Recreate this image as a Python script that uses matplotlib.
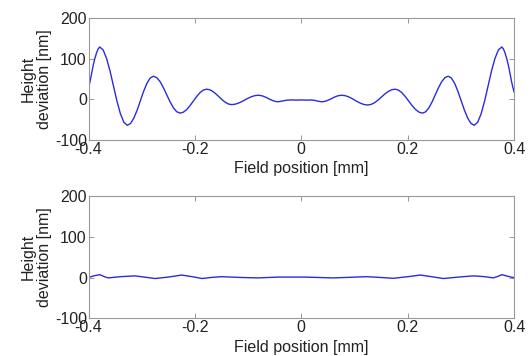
import matplotlib
matplotlib.use("Agg")
import matplotlib.pyplot as plt

plt.rcParams['font.family'] = ['Liberation Sans', 'DejaVu Sans']

# Top panel: field position [mm] vs height deviation [nm]
top_x = [-0.400, -0.397, -0.394, -0.391, -0.388, -0.385, -0.382, -0.379,
         -0.3725, -0.366, -0.3595, -0.353, -0.3465, -0.340, -0.3335, -0.327,
         -0.3209, -0.3148, -0.3086, -0.3025, -0.2964, -0.2903, -0.2841, -0.278,
         -0.2718, -0.2655, -0.2593, -0.253, -0.2468, -0.2405, -0.2343, -0.228,
         -0.2218, -0.2155, -0.2093, -0.203, -0.1968, -0.1905, -0.1843, -0.178,
         -0.1721, -0.1663, -0.1604, -0.1545, -0.1486, -0.1428, -0.1369, -0.131,
         -0.1248, -0.1185, -0.1123, -0.106, -0.0998, -0.0935, -0.0873, -0.081,
         -0.0763, -0.0715, -0.0668, -0.062, -0.0573, -0.0525, -0.0478, -0.043,
         -0.035, -0.027, -0.018, -0.010, 0.000, 0.010, 0.018, 0.025, 0.031, 0.038,
         0.0428, 0.0475, 0.0523, 0.057, 0.0618, 0.0665, 0.0713, 0.076,
         0.0821, 0.0883, 0.0944, 0.1005, 0.1066, 0.1128, 0.1189, 0.125,
         0.1314, 0.1378, 0.1441, 0.1505, 0.1569, 0.1633, 0.1696, 0.176,
         0.1825, 0.189, 0.1955, 0.202, 0.2085, 0.215, 0.2215, 0.228,
         0.234, 0.240, 0.246, 0.252, 0.258, 0.264, 0.270, 0.276,
         0.2821, 0.2883, 0.2944, 0.3005, 0.3066, 0.3128, 0.3189, 0.325,
         0.3315, 0.338, 0.3445, 0.351, 0.3575, 0.364, 0.3705, 0.377,
         0.380, 0.383, 0.386, 0.389, 0.392, 0.395, 0.398, 0.400]
top_y = [25, 45, 66, 85, 101, 114, 124, 129,
         121.7, 100.7, 69.5, 32.5, -4.5, -35.7, -56.7, -64,
         -59.4, -46.3, -26.7, -3.5, 19.7, 39.3, 52.4, 57,
         53.5, 43.7, 28.9, 11.5, -5.9, -20.7, -30.5, -34,
         -31.8, -25.4, -15.8, -4.5, 6.8, 16.4, 22.8, 25,
         23.6, 19.4, 13.3, 6, -1.3, -7.4, -11.6, -13,
         -12.1, -9.6, -5.9, -1.5, 2.9, 6.6, 9.1, 10,
         9.4, 7.7, 5.1, 2, -1.1, -3.7, -5.4, -6,
         -4, -2, -1.5, -2, -1.5, -2, -1.5, -2.5, -4.5, -6,
         -5.4, -3.7, -1.1, 2, 5.1, 7.7, 9.4, 10,
         9.1, 6.5, 2.6, -2, -6.6, -10.5, -13.1, -14,
         -12.5, -8.3, -2, 5.5, 13, 19.3, 23.5, 25,
         22.8, 16.4, 6.8, -4.5, -15.8, -25.4, -31.8, -34,
         -30.5, -20.7, -5.9, 11.5, 28.9, 43.7, 53.5, 57,
         52.4, 39.3, 19.7, -3.5, -26.7, -46.3, -59.4, -64,
         -56.7, -35.7, -4.5, 32.5, 69.5, 100.7, 121.7, 129,
         124, 114, 101, 85, 66, 45, 28, 18]

# Bottom panel
bot_x = [-0.400, -0.390, -0.379, -0.370, -0.363, -0.340, -0.313, -0.295, -0.275,
         -0.250, -0.225, -0.205, -0.187, -0.170, -0.150, -0.112, -0.081, -0.044,
         0.007, 0.060, 0.123, 0.150, 0.173, 0.200, 0.224, 0.245, 0.267, 0.295,
         0.324, 0.345, 0.361, 0.370, 0.377, 0.388, 0.398, 0.400]
bot_y = [0, 4, 7, 2, -1, 2, 4, 1, -2.5,
         1, 6, 2, -2.5, 0, 2, 0, -1, 1,
         1, -1, 2, 0, -2, 2, 6, 2, -2.5, 1,
         4, 2, -1, 3, 7, 3, 0, 0]

x_ticks = [-0.4, -0.2, 0, 0.2, 0.4]
x_ticklabels = ['-0.4', '-0.2', '0', '0.2', '0.4']
y_ticks = [-100, 0, 100, 200]
y_ticklabels = ['-100', '0', '100', '200']

fig = plt.figure(figsize=(5.30, 3.56), dpi=100)
ax1 = fig.add_axes([0.167, 0.607, 0.803, 0.342])
ax2 = fig.add_axes([0.167, 0.106, 0.803, 0.3435])

text_color = '#222222'
fs = 11.5
for ax, xs, ys in ((ax1, top_x, top_y), (ax2, bot_x, bot_y)):
    ax.plot(xs, ys, color='#2b2be0', lw=1.0)
    ax.set_xlim(-0.4, 0.4)
    ax.set_ylim(-100, 200)
    ax.set_xticks(x_ticks)
    ax.set_xticklabels(x_ticklabels)
    ax.set_yticks(y_ticks)
    ax.set_yticklabels(y_ticklabels)
    ax.tick_params(direction='in', length=3.5, width=0.6, colors='#888888',
                   labelcolor=text_color, labelsize=fs, pad=1.2,
                   top=True, right=True)
    ax.tick_params(axis='x', pad=1.2)
    for s in ax.spines.values():
        s.set_color('#999999')
        s.set_linewidth(0.8)
    ax.set_xlabel('Field position [mm]', fontsize=fs, color=text_color, labelpad=3.5)
    ax.set_ylabel('Height\ndeviation [nm]', fontsize=fs, color=text_color,
                  labelpad=2, linespacing=1.15)

fig.savefig('out.png', dpi=100)
